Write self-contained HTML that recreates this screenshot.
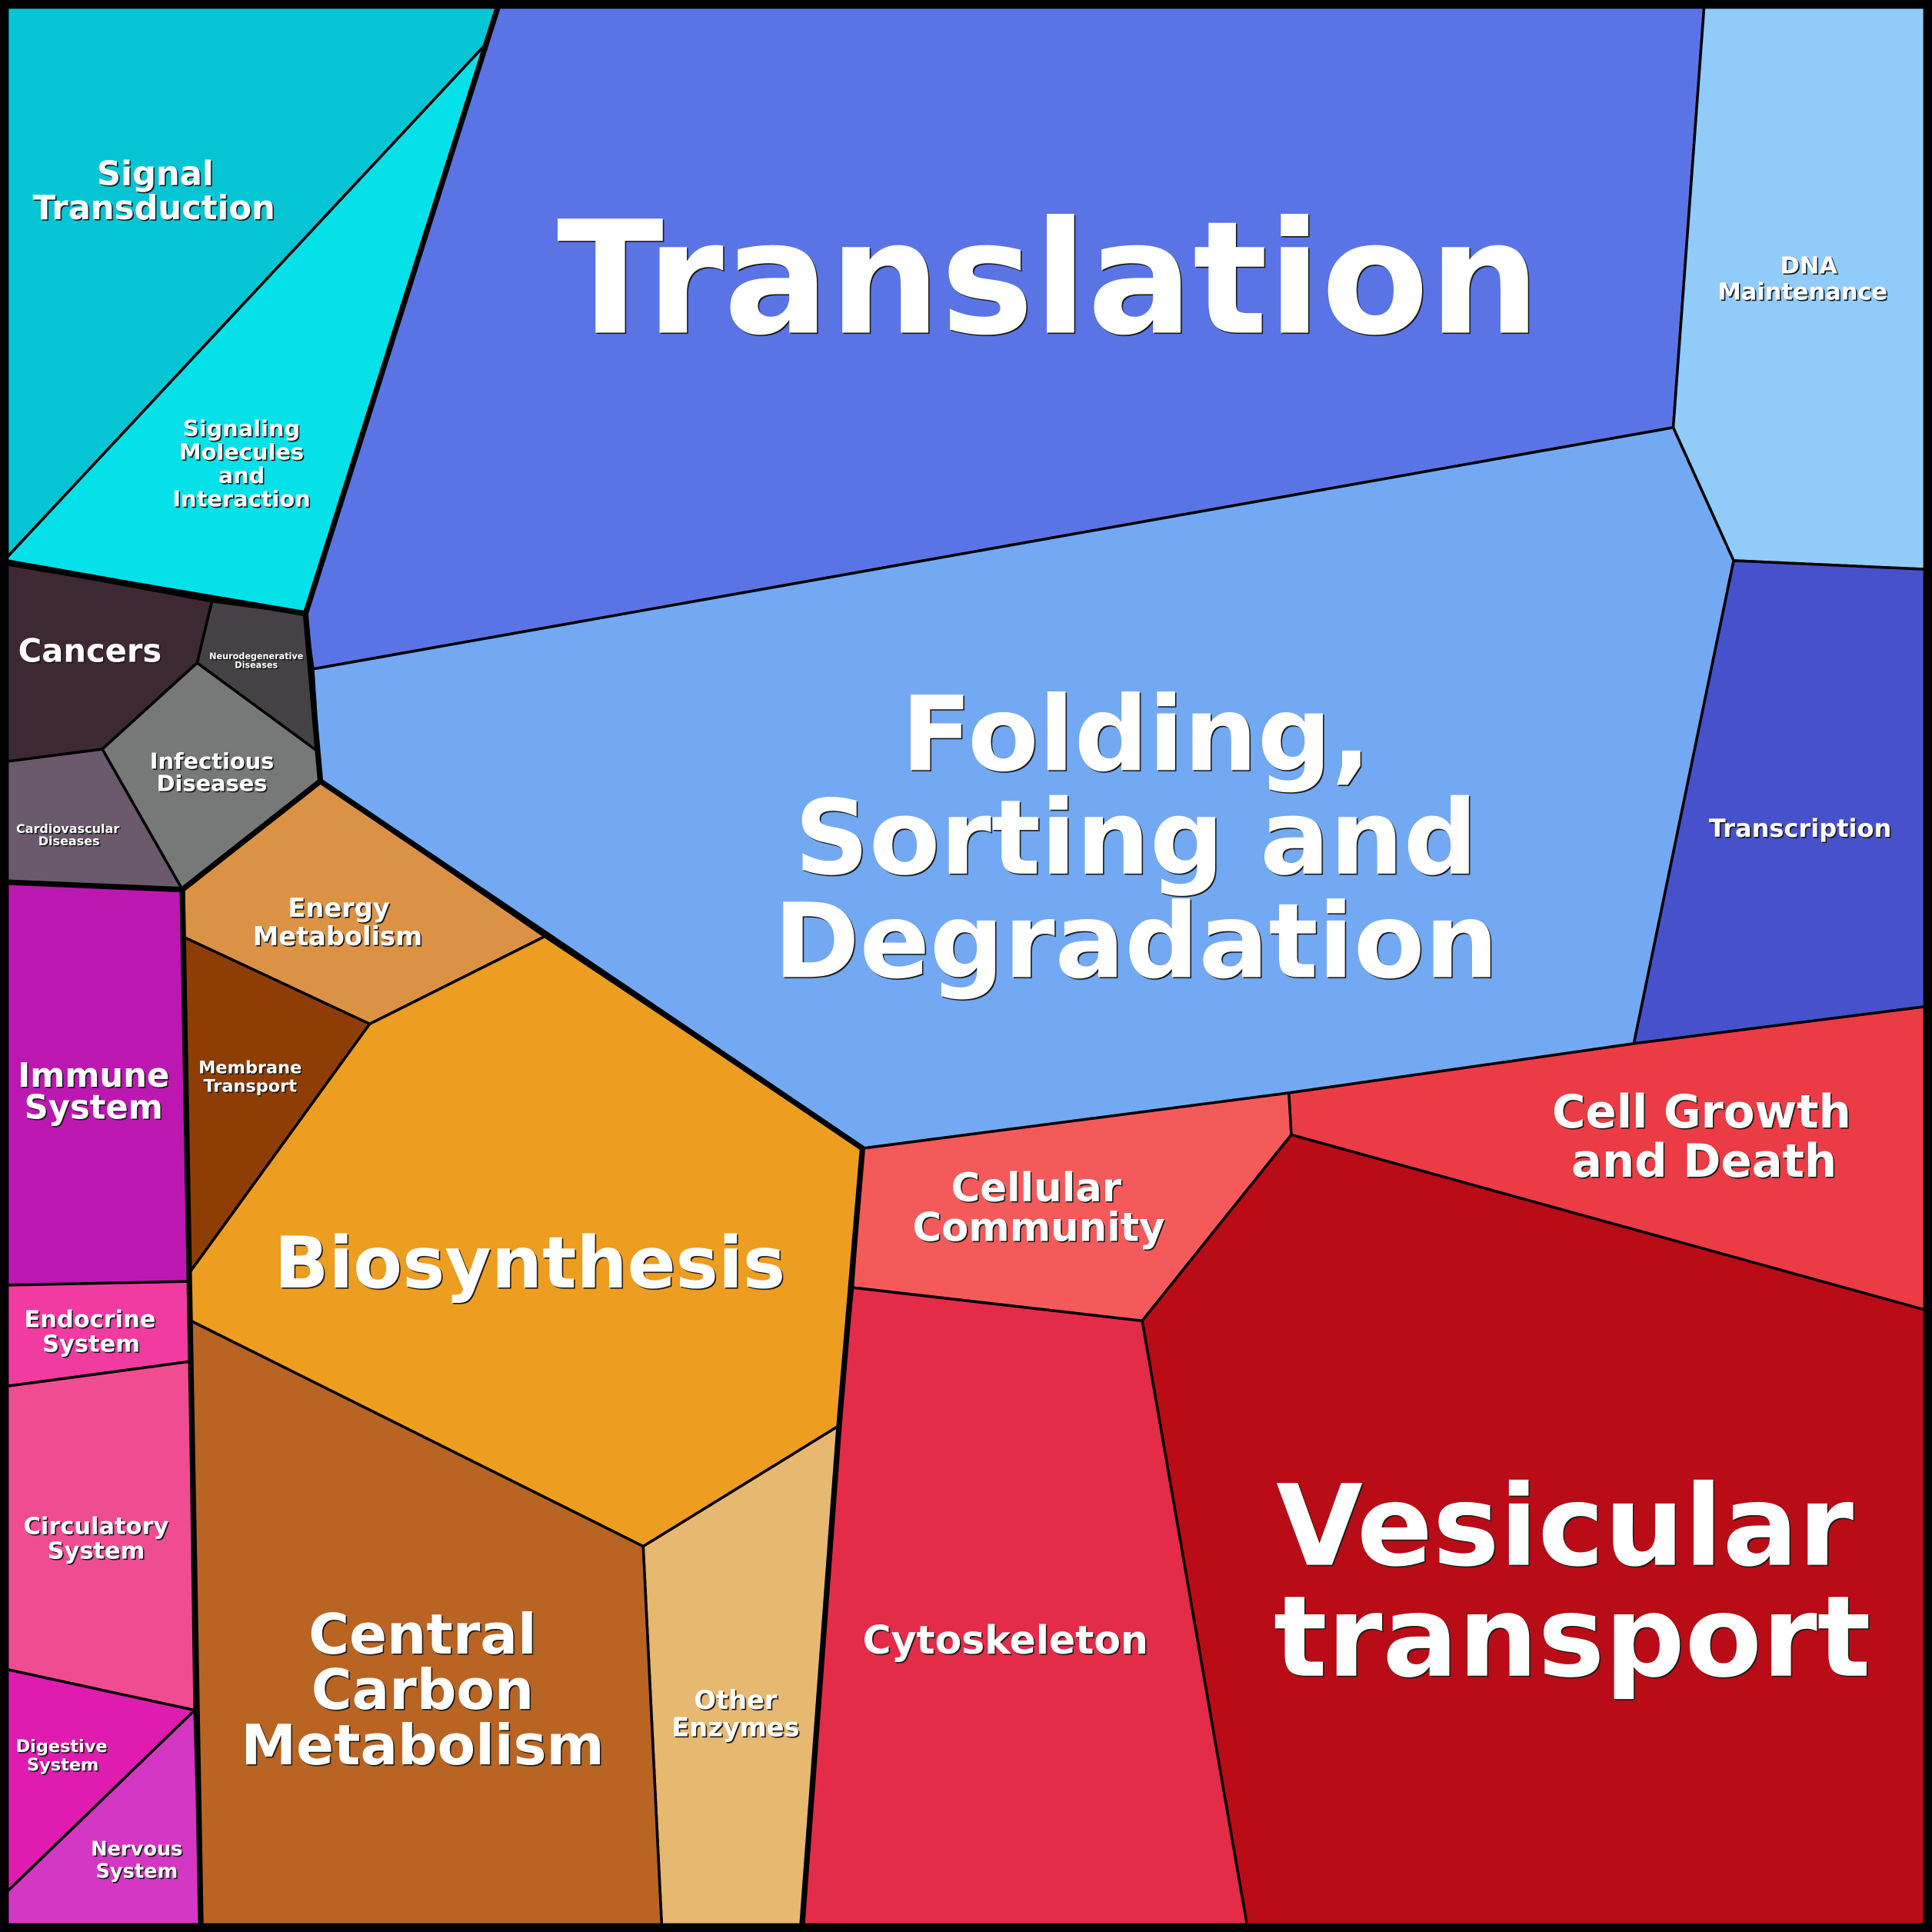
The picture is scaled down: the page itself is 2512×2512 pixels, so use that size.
<!DOCTYPE html>
<html><head><meta charset="utf-8"><style>
html,body{margin:0;padding:0;background:#000}
svg{display:block}
text{font-family:"DejaVu Sans","Liberation Sans",sans-serif;font-weight:bold;fill:#fff;text-anchor:middle;filter:drop-shadow(1px 1px 0 #1a1a1a)}
</style></head><body>
<svg width="2512" height="2512" viewBox="0 0 1568 1568" xmlns="http://www.w3.org/2000/svg">
<rect x="0" y="0" width="1568" height="1568" fill="#000"/>
<g stroke="#000" stroke-width="2.2" stroke-linejoin="round">
<polygon fill="#05c5d5" points="6,6 404,6 395,35 6,452"/>
<polygon fill="#05e1e8" points="395,35 248,498 6,455 6,452"/>
<polygon fill="#5a74e6" points="404,6 1383,6 1358,347 254,543 248,498"/>
<polygon fill="#90cbfa" points="1383,6 1562,6 1562,462 1407,455 1358,347"/>
<polygon fill="#72a9f2" points="254,543 1358,347 1407,455 1326,847 1046,887 700,932 260,634"/>
<polygon fill="#4751cb" points="1407,455 1562,462 1562,817 1326,847"/>
<polygon fill="#eb3b45" points="1326,847 1562,817 1562,1063 1048,921 1046,887"/>
<polygon fill="#f55a5a" points="700,932 1046,887 1048,921 927,1072 692,1045"/>
<polygon fill="#b90c16" points="1048,921 1562,1063 1562,1562 1012,1562 927,1072"/>
<polygon fill="#e42b48" points="692,1045 927,1072 1012,1562 651,1562 681,1157"/>
<polygon fill="#e6b870" points="681,1157 651,1562 537,1562 522,1255"/>
<polygon fill="#ed9d20" points="442,760 700,932 681,1157 522,1255 155,1072 153,1034 300,831"/>
<polygon fill="#b96423" points="155,1072 522,1255 537,1562 163,1562"/>
<polygon fill="#dc9245" points="260,634 442,760 300,831 148,760 148,722"/>
<polygon fill="#8e3e05" points="148,760 300,831 153,1034"/>
<polygon fill="#3d2933" points="6,457 172,488 160,538 83,608 6,618"/>
<polygon fill="#444244" points="172,488 248,498 258,610 160,538"/>
<polygon fill="#777878" points="160,538 258,610 260,634 148,722 83,608"/>
<polygon fill="#6a5a6c" points="6,618 83,608 148,722 6,716"/>
<polygon fill="#bd17b2" points="6,716 148,722 153,1040 6,1043"/>
<polygon fill="#f23ba1" points="6,1043 153,1040 154,1105 6,1125"/>
<polygon fill="#f04c92" points="6,1125 154,1105 158,1388 6,1355"/>
<polygon fill="#e01cb0" points="6,1355 158,1388 6,1535"/>
<polygon fill="#d337c3" points="158,1388 163,1562 6,1562 6,1535"/>
</g>
<g stroke="#000" stroke-width="4.5" fill="none" stroke-linejoin="round">
<polyline points="404,6 248,498 260,634 700,932 681,1157 651,1562"/>
<polyline points="6,457 248,498"/>
<polyline points="260,634 148,722 163,1562"/>
<polyline points="6,716 148,722"/>
<rect x="3" y="3" width="1562" height="1562"/>
</g>
<text font-size="127" x="851" y="270">Translation</text>
<text font-size="84" x="922" y="625">Folding,</text>
<text font-size="84" x="922" y="709">Sorting and</text>
<text font-size="84" x="922" y="793">Degradation</text>
<text font-size="91" x="1270" y="1270">Vesicular</text>
<text font-size="91" x="1276" y="1360">transport</text>
<text font-size="58" x="430" y="1045">Biosynthesis</text>
<text font-size="45" x="343" y="1342">Central</text>
<text font-size="45" x="343" y="1387">Carbon</text>
<text font-size="45" x="343" y="1432">Metabolism</text>
<text font-size="37" x="1381" y="915">Cell Growth</text>
<text font-size="37" x="1383" y="955">and Death</text>
<text font-size="32" x="841" y="975">Cellular</text>
<text font-size="32" x="843" y="1007">Community</text>
<text font-size="31.5" x="816" y="1342">Cytoskeleton</text>
<text font-size="27" x="126" y="150">Signal</text>
<text font-size="27" x="125" y="178">Transduction</text>
<text font-size="18" x="196" y="354">Signaling</text>
<text font-size="18" x="196" y="373">Molecules</text>
<text font-size="18" x="196" y="392">and</text>
<text font-size="18" x="196" y="411">Interaction</text>
<text font-size="19" x="1468" y="222">DNA</text>
<text font-size="19" x="1463" y="243">Maintenance</text>
<text font-size="20" x="1461" y="679">Transcription</text>
<text font-size="26" x="73" y="537">Cancers</text>
<text font-size="7" x="208" y="535">Neurodegenerative</text>
<text font-size="7" x="208" y="542">Diseases</text>
<text font-size="18" x="172" y="624">Infectious</text>
<text font-size="18" x="172" y="642">Diseases</text>
<text font-size="10" x="55" y="676">Cardiovascular</text>
<text font-size="10" x="56" y="686">Diseases</text>
<text font-size="21" x="275" y="744">Energy</text>
<text font-size="21" x="274" y="767">Metabolism</text>
<text font-size="14" x="203" y="871">Membrane</text>
<text font-size="14" x="203" y="886">Transport</text>
<text font-size="27" x="76" y="882">Immune</text>
<text font-size="27" x="76" y="908">System</text>
<text font-size="19" x="73" y="1077">Endocrine</text>
<text font-size="19" x="74" y="1097">System</text>
<text font-size="19" x="78" y="1245">Circulatory</text>
<text font-size="19" x="78" y="1265">System</text>
<text font-size="14" x="50" y="1422">Digestive</text>
<text font-size="14" x="51" y="1437">System</text>
<text font-size="16" x="111" y="1506">Nervous</text>
<text font-size="16" x="111" y="1524">System</text>
<text font-size="21" x="597" y="1387">Other</text>
<text font-size="21" x="597" y="1409">Enzymes</text>
</svg>
</body></html>
